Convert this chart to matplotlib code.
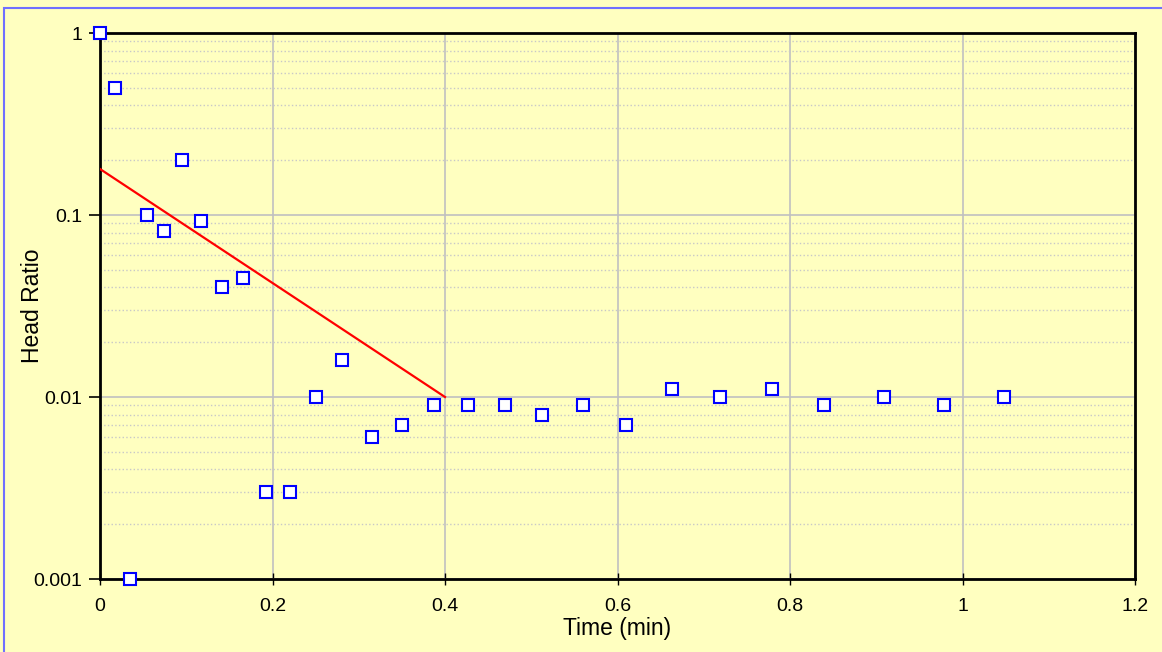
import numpy as np
import matplotlib.pyplot as plt
from matplotlib.patches import Rectangle
from matplotlib.ticker import LogLocator, FixedLocator, NullFormatter

plt.rcParams['font.family'] = ['Liberation Sans', 'DejaVu Sans']

# Измерения (время, мин) и отношение напоров
time_min = [0.0, 0.017, 0.035, 0.054, 0.074, 0.095, 0.117, 0.141, 0.166, 0.192,
            0.220, 0.250, 0.281, 0.315, 0.350, 0.387, 0.427, 0.470, 0.512, 0.560,
            0.610, 0.663, 0.719, 0.779, 0.839, 0.909, 0.979, 1.048]
head_ratio = [1.0, 0.5, 0.001, 0.1, 0.082, 0.2, 0.093, 0.04, 0.045, 0.003,
              0.003, 0.01, 0.016, 0.006, 0.007, 0.009, 0.009, 0.009, 0.008, 0.009,
              0.007, 0.011, 0.010, 0.011, 0.009, 0.010, 0.009, 0.010]

# Прямая подбора
fit_t = [0.0, 0.4]
fit_h = [0.179, 0.01]

x_ticks = [0, 0.2, 0.4, 0.6, 0.8, 1, 1.2]
x_tick_labels = ['0', '0.2', '0.4', '0.6', '0.8', '1', '1.2']
y_ticks = [0.001, 0.01, 0.1, 1]
y_tick_labels = ['0.001', '0.01', '0.1', '1']

bg = '#FFFFC0'
W, H = 1162, 652
fig = plt.figure(figsize=(W / 100, H / 100), dpi=100, facecolor=bg)
ax = fig.add_axes([100 / W, 1 - 579 / H, 1035 / W, 546 / H])
ax.set_facecolor(bg)

# Рамка вокруг всего рисунка
fig.patches.append(Rectangle((3.5 / W, -0.1), 1.2, 1 - 7.5 / H + 0.1,
                             transform=fig.transFigure, fill=False,
                             edgecolor='#7070FF', linewidth=1.5, zorder=0))

ax.set_yscale('log')
ax.set_xlim(0, 1.2)
ax.set_ylim(0.001, 1)

ax.xaxis.set_major_locator(FixedLocator(x_ticks))
ax.set_xticklabels(x_tick_labels)
ax.yaxis.set_major_locator(FixedLocator(y_ticks))
ax.set_yticklabels(y_tick_labels)
ax.yaxis.set_minor_locator(LogLocator(base=10, subs=np.arange(2, 10)))
ax.yaxis.set_minor_formatter(NullFormatter())

ax.grid(True, which='major', color='#C0C0C0', linewidth=1.2, linestyle='-')
ax.grid(True, which='minor', axis='y', color='#C8C8C8', linewidth=1.0, linestyle=':')
ax.set_axisbelow(True)

ax.tick_params(axis='y', which='major', direction='out', length=8, width=1.2,
               labelsize=14, pad=5)
ax.tick_params(axis='y', which='minor', length=0)
ax.tick_params(axis='x', which='major', direction='inout', length=8, width=1.0,
               labelsize=14, pad=10)
for s in ax.spines.values():
    s.set_linewidth(2)
    s.set_color('black')

ax.plot(fit_t, fit_h, color='red', linewidth=1.6, zorder=3)
ax.plot(time_min, head_ratio, linestyle='none', marker='s', markersize=8.5,
        markerfacecolor='white', markeredgecolor='#0000FF', markeredgewidth=1.5,
        zorder=4, clip_on=False)

ax.set_xlabel('Time (min)', fontsize=16.5, labelpad=1)
ax.set_ylabel('Head Ratio', fontsize=16.5, labelpad=-8)

fig.savefig('out.png', dpi=100, facecolor=bg)
